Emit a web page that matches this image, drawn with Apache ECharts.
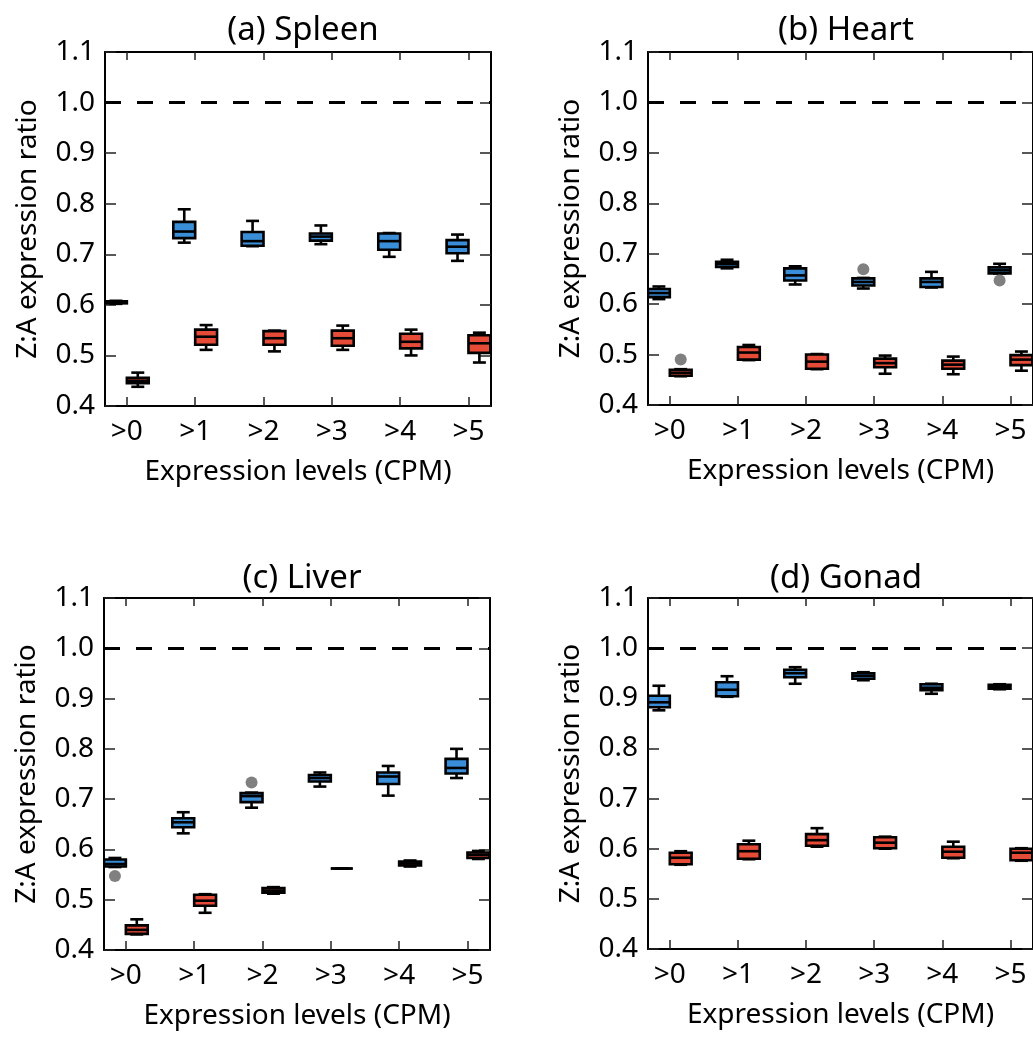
<!DOCTYPE html>
<html>
<head>
<meta charset="utf-8">
<script src="https://cdn.jsdelivr.net/npm/echarts@6/dist/echarts.min.js"></script>
<style>
html,body{margin:0;padding:0;background:#fff;}
#chart{width:1033px;height:1037px;}
</style>
</head>
<body>
<div id="chart"></div>
<script>
// ---------- data ----------
const categories = ['>0', '>1', '>2', '>3', '>4', '>5'];
const panelTitles = ['(a) Spleen', '(b) Heart', '(c) Liver', '(d) Gonad'];
const yTickValues = [0.4, 0.5, 0.6, 0.7, 0.8, 0.9, 1.0, 1.1];
const referenceRatio = 1.0;
const xAxisTitle = 'Expression levels (CPM)';
const yAxisTitle = 'Z:A expression ratio';

// box stats per category: [min, Q1, median, Q3, max]
const spleenBlue = [
  [0.602, 0.603, 0.605, 0.607, 0.608],
  [0.723, 0.732, 0.745, 0.764, 0.789],
  [0.716, 0.717, 0.726, 0.744, 0.766],
  [0.720, 0.727, 0.735, 0.741, 0.757],
  [0.695, 0.709, 0.726, 0.741, 0.742],
  [0.687, 0.702, 0.715, 0.728, 0.739]
];
const spleenRed = [
  [0.438, 0.445, 0.450, 0.456, 0.466],
  [0.511, 0.521, 0.537, 0.551, 0.560],
  [0.508, 0.521, 0.534, 0.548, 0.549],
  [0.511, 0.519, 0.534, 0.549, 0.559],
  [0.500, 0.514, 0.527, 0.543, 0.551],
  [0.486, 0.505, 0.524, 0.540, 0.545]
];
const heartBlue = [
  [0.610, 0.614, 0.622, 0.630, 0.635],
  [0.671, 0.674, 0.680, 0.684, 0.688],
  [0.639, 0.647, 0.657, 0.671, 0.675],
  [0.631, 0.637, 0.644, 0.651, 0.652],
  [0.633, 0.634, 0.644, 0.651, 0.664],
  [0.661, 0.661, 0.667, 0.673, 0.680]
];
const heartRed = [
  [0.457, 0.458, 0.464, 0.470, 0.471],
  [0.489, 0.490, 0.504, 0.515, 0.519],
  [0.471, 0.472, 0.486, 0.500, 0.501],
  [0.462, 0.475, 0.483, 0.492, 0.498],
  [0.461, 0.472, 0.480, 0.488, 0.496],
  [0.468, 0.479, 0.490, 0.499, 0.506]
];
const liverBlue = [
  [0.565, 0.566, 0.571, 0.580, 0.583],
  [0.632, 0.644, 0.654, 0.662, 0.674],
  [0.683, 0.694, 0.706, 0.712, 0.713],
  [0.725, 0.735, 0.742, 0.748, 0.753],
  [0.707, 0.730, 0.745, 0.753, 0.766],
  [0.742, 0.751, 0.762, 0.780, 0.800]
];
const liverRed = [
  [0.431, 0.432, 0.440, 0.449, 0.461],
  [0.474, 0.488, 0.498, 0.510, 0.511],
  [0.512, 0.514, 0.518, 0.523, 0.525],
  [0.562, 0.562, 0.562, 0.562, 0.562],
  [0.566, 0.568, 0.572, 0.576, 0.578],
  [0.581, 0.583, 0.589, 0.594, 0.597]
];
const gonadBlue = [
  [0.876, 0.882, 0.892, 0.905, 0.925],
  [0.903, 0.904, 0.917, 0.932, 0.944],
  [0.929, 0.942, 0.950, 0.957, 0.962],
  [0.936, 0.939, 0.945, 0.950, 0.952],
  [0.909, 0.916, 0.921, 0.928, 0.929],
  [0.918, 0.919, 0.923, 0.927, 0.928]
];
const gonadRed = [
  [0.568, 0.569, 0.582, 0.592, 0.595],
  [0.579, 0.580, 0.595, 0.609, 0.616],
  [0.604, 0.606, 0.617, 0.629, 0.641],
  [0.600, 0.601, 0.612, 0.623, 0.624],
  [0.581, 0.582, 0.594, 0.604, 0.614],
  [0.576, 0.577, 0.592, 0.600, 0.601]
];
// outliers: [category index, group (0 = blue, 1 = red), value]
const spleenOutliers = [];
const heartOutliers = [[3, 0, 0.669], [5, 0, 0.647], [0, 1, 0.490]];
const liverOutliers = [[0, 0, 0.547], [2, 0, 0.733]];
const gonadOutliers = [];

// ---------- layout / style ----------
const FONT = 'Noto Sans';
const BLUE = '#3A8ED8';
const RED = '#E64B38';
const GROUP_OFFSET = [-0.16, 0.16];
const BOX_FRAC = 0.32;
const CAP_FRAC = 0.19;
const X_MIN = -0.32, X_MAX = 5.33;
const LW = 2.6;
const grids = [
  {left: 105, top: 52, width: 386, height: 354},
  {left: 648, top: 52, width: 386, height: 353},
  {left: 104, top: 598, width: 386, height: 352},
  {left: 648, top: 598, width: 386, height: 351}
];
const panels = [
  [spleenBlue, spleenRed, spleenOutliers],
  [heartBlue, heartRed, heartOutliers],
  [liverBlue, liverRed, liverOutliers],
  [gonadBlue, gonadRed, gonadOutliers]
];

function renderBox(params, api) {
  const x = api.value(0);
  const lo = api.coord([x, api.value(1)]);
  const q1 = api.coord([x, api.value(2)]);
  const md = api.coord([x, api.value(3)]);
  const q3 = api.coord([x, api.value(4)]);
  const hi = api.coord([x, api.value(5)]);
  const unit = api.size([1, 0])[0];
  const half = unit * BOX_FRAC / 2;
  const cap = unit * CAP_FRAC / 2;
  const cx = lo[0];
  const color = api.visual('color');
  const ls = {stroke: '#000', lineWidth: LW};
  return {
    type: 'group',
    children: [
      {type: 'line', shape: {x1: cx, y1: hi[1], x2: cx, y2: q3[1]}, style: ls},
      {type: 'line', shape: {x1: cx, y1: q1[1], x2: cx, y2: lo[1]}, style: ls},
      {type: 'line', shape: {x1: cx - cap, y1: hi[1], x2: cx + cap, y2: hi[1]}, style: ls},
      {type: 'line', shape: {x1: cx - cap, y1: lo[1], x2: cx + cap, y2: lo[1]}, style: ls},
      {type: 'rect', shape: {x: cx - half, y: q3[1], width: 2 * half, height: q1[1] - q3[1]},
        style: {fill: color, stroke: '#000', lineWidth: LW}},
      {type: 'line', shape: {x1: cx - half, y1: md[1], x2: cx + half, y2: md[1]}, style: ls}
    ]
  };
}

const tickIdx = categories.map((c, i) => i);
const xAxes = [], yAxes = [], series = [], titles = [];
grids.forEach((g, p) => {
  titles.push({
    text: panelTitles[p], left: g.left + g.width / 2, top: p >= 2 ? 557 : 9, textAlign: 'center',
    textStyle: {fontFamily: FONT, fontSize: 33, fontWeight: 'normal', color: '#000'}
  });
  xAxes.push({
    type: 'value', gridIndex: p, min: X_MIN, max: X_MAX, position: 'bottom',
    axisLine: {show: true, onZero: false, lineStyle: {color: '#000', width: 2}},
    axisTick: {show: true, inside: true, length: 9, customValues: tickIdx, lineStyle: {color: '#222', width: 1.5}},
    axisLabel: {show: true, customValues: tickIdx, formatter: v => categories[Math.round(v)],
      fontFamily: FONT, fontSize: 28, color: '#000', margin: 12},
    splitLine: {show: false},
    name: xAxisTitle, nameLocation: 'middle', nameGap: 52,
    nameTextStyle: {fontFamily: FONT, fontSize: 28, color: '#000'}
  });
  xAxes.push({
    type: 'value', gridIndex: p, min: X_MIN, max: X_MAX, position: 'top',
    axisLine: {show: true, onZero: false, lineStyle: {color: '#000', width: 2}},
    axisTick: {show: true, inside: true, length: 8, customValues: tickIdx, lineStyle: {color: '#222', width: 1.5}},
    axisLabel: {show: false}, splitLine: {show: false}
  });
  yAxes.push({
    type: 'value', gridIndex: p, min: yTickValues[0], max: yTickValues[yTickValues.length - 1], interval: 0.1,
    position: 'left',
    axisLine: {show: true, onZero: false, lineStyle: {color: '#000', width: 2}},
    axisTick: {show: true, inside: true, length: 11, lineStyle: {color: '#222', width: 1.5}},
    axisLabel: {formatter: v => v.toFixed(1), fontFamily: FONT, fontSize: 28, color: '#000', margin: 10},
    splitLine: {show: false},
    name: yAxisTitle, nameLocation: 'middle', nameGap: 63,
    nameTextStyle: {fontFamily: FONT, fontSize: 28, color: '#000'}
  });
  yAxes.push({
    type: 'value', gridIndex: p, min: yTickValues[0], max: yTickValues[yTickValues.length - 1], interval: 0.1,
    position: 'right',
    axisLine: {show: true, onZero: false, lineStyle: {color: '#000', width: 2}},
    axisTick: {show: true, inside: true, length: 11, lineStyle: {color: '#222', width: 1.5}},
    axisLabel: {show: false}, splitLine: {show: false}
  });
  const [blue, red, outs] = panels[p];
  [blue, red].forEach((grp, gi) => {
    series.push({
      type: 'custom', xAxisIndex: 2 * p, yAxisIndex: 2 * p, clip: true,
      itemStyle: {color: gi === 0 ? BLUE : RED},
      renderItem: renderBox,
      encode: {x: 0, y: [1, 2, 3, 4, 5]},
      data: grp.map((s, i) => [i + GROUP_OFFSET[gi]].concat(s)),
      z: 3, silent: true, animation: false
    });
  });
  series.push({
    type: 'scatter', xAxisIndex: 2 * p, yAxisIndex: 2 * p,
    symbol: 'circle', symbolSize: 12,
    itemStyle: {color: '#808080', opacity: 1},
    data: outs.map(o => [o[0] + GROUP_OFFSET[o[1]], o[2]]),
    z: 4, silent: true, animation: false,
    markLine: {
      silent: true, symbol: ['none', 'none'], animation: false,
      label: {show: false},
      lineStyle: {color: '#000', width: 2.8, type: [16, 16]},
      data: [{yAxis: referenceRatio}]
    }
  });
});

const chart = echarts.init(document.getElementById('chart'), null, {renderer: 'canvas'});
chart.setOption({
  backgroundColor: '#fff',
  animation: false,
  title: titles,
  grid: grids.map(g => Object.assign({containLabel: false}, g)),
  xAxis: xAxes,
  yAxis: yAxes,
  series: series
});
</script>
</body>
</html>
